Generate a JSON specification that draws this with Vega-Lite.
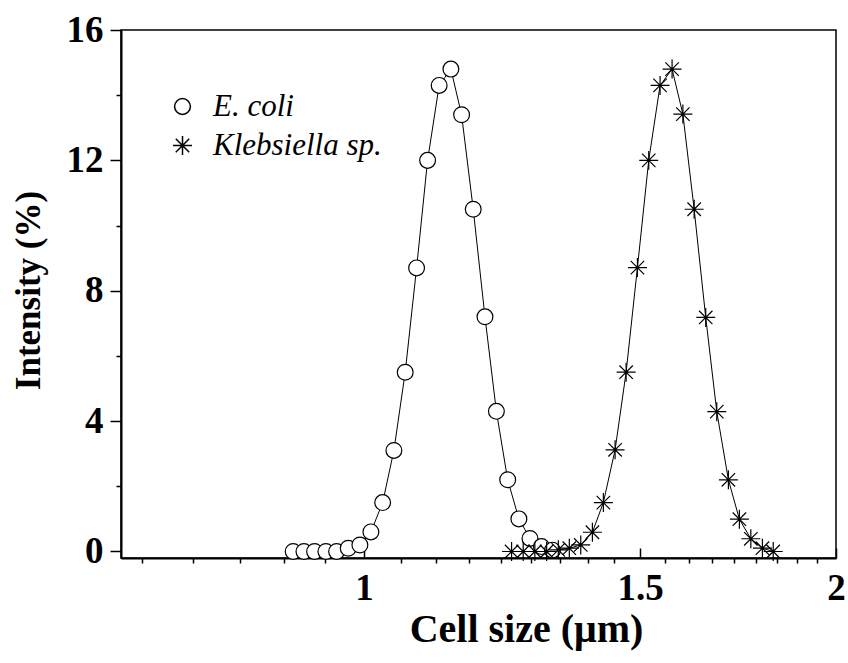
{
  "$schema": "https://vega.github.io/schema/vega-lite/v6.json",
  "width": 715,
  "height": 528,
  "autosize": "none",
  "padding": {"left": 121, "top": 30, "right": 12, "bottom": 105},
  "background": "white",
  "config": {
    "view": {"stroke": "black", "strokeWidth": 1.5},
    "font": "Liberation Serif",
    "axis": {"grid": false, "domainColor": "black", "tickColor": "black", "labelColor": "black", "titleColor": "black", "domainWidth": 2, "tickWidth": 1.5, "labelFlush": false, "labelOverlap": false}
  },
  "data": {"values": [
    {"series": "E. coli", "size": 0.9013, "intensity": 0},
    {"series": "E. coli", "size": 0.9157, "intensity": 0},
    {"series": "E. coli", "size": 0.9301, "intensity": 0},
    {"series": "E. coli", "size": 0.9457, "intensity": 0},
    {"series": "E. coli", "size": 0.9607, "intensity": 0},
    {"series": "E. coli", "size": 0.9772, "intensity": 0.1},
    {"series": "E. coli", "size": 0.9941, "intensity": 0.2},
    {"series": "E. coli", "size": 1.0103, "intensity": 0.6},
    {"series": "E. coli", "size": 1.0279, "intensity": 1.5},
    {"series": "E. coli", "size": 1.045, "intensity": 3.1},
    {"series": "E. coli", "size": 1.0625, "intensity": 5.5},
    {"series": "E. coli", "size": 1.0804, "intensity": 8.7},
    {"series": "E. coli", "size": 1.098, "intensity": 12.0},
    {"series": "E. coli", "size": 1.1168, "intensity": 14.3},
    {"series": "E. coli", "size": 1.1362, "intensity": 14.8},
    {"series": "E. coli", "size": 1.1542, "intensity": 13.4},
    {"series": "E. coli", "size": 1.1741, "intensity": 10.5},
    {"series": "E. coli", "size": 1.1945, "intensity": 7.2},
    {"series": "E. coli", "size": 1.2147, "intensity": 4.3},
    {"series": "E. coli", "size": 1.235, "intensity": 2.2},
    {"series": "E. coli", "size": 1.2555, "intensity": 1.0},
    {"series": "E. coli", "size": 1.2761, "intensity": 0.4},
    {"series": "E. coli", "size": 1.2978, "intensity": 0.15},
    {"series": "E. coli", "size": 1.3189, "intensity": 0.04},
    {"series": "Klebsiella sp.", "size": 1.2421, "intensity": 0},
    {"series": "Klebsiella sp.", "size": 1.2635, "intensity": 0},
    {"series": "Klebsiella sp.", "size": 1.2853, "intensity": 0},
    {"series": "Klebsiella sp.", "size": 1.3077, "intensity": 0},
    {"series": "Klebsiella sp.", "size": 1.3303, "intensity": 0.05},
    {"series": "Klebsiella sp.", "size": 1.352, "intensity": 0.1},
    {"series": "Klebsiella sp.", "size": 1.3749, "intensity": 0.2},
    {"series": "Klebsiella sp.", "size": 1.3986, "intensity": 0.59},
    {"series": "Klebsiella sp.", "size": 1.4213, "intensity": 1.5},
    {"series": "Klebsiella sp.", "size": 1.446, "intensity": 3.12},
    {"series": "Klebsiella sp.", "size": 1.4696, "intensity": 5.5},
    {"series": "Klebsiella sp.", "size": 1.4942, "intensity": 8.71},
    {"series": "Klebsiella sp.", "size": 1.5192, "intensity": 12.0},
    {"series": "Klebsiella sp.", "size": 1.5447, "intensity": 14.3},
    {"series": "Klebsiella sp.", "size": 1.5722, "intensity": 14.8},
    {"series": "Klebsiella sp.", "size": 1.5973, "intensity": 13.42},
    {"series": "Klebsiella sp.", "size": 1.624, "intensity": 10.5},
    {"series": "Klebsiella sp.", "size": 1.6518, "intensity": 7.18},
    {"series": "Klebsiella sp.", "size": 1.6788, "intensity": 4.29},
    {"series": "Klebsiella sp.", "size": 1.7077, "intensity": 2.2},
    {"series": "Klebsiella sp.", "size": 1.7355, "intensity": 0.99},
    {"series": "Klebsiella sp.", "size": 1.7649, "intensity": 0.39},
    {"series": "Klebsiella sp.", "size": 1.7952, "intensity": 0.1},
    {"series": "Klebsiella sp.", "size": 1.8239, "intensity": 0}
  ]},
  "layer": [
    {
      "mark": {"type": "line", "color": "black", "strokeWidth": 1},
      "encoding": {
        "x": {
          "field": "size", "type": "quantitative",
          "scale": {"type": "log", "domain": [0.7, 2], "nice": false},
          "axis": {
            "values": [1, 1.5, 2], "format": "~g", "tickSize": -10, "labelPadding": 22,
            "labelFont": "Liberation Serif", "labelFontSize": 37, "labelFontWeight": "bold",
            "title": "Cell size (μm)", "titleFont": "Liberation Serif", "titleFontSize": 40, "titleFontWeight": "bold",
            "titleX": 405, "titleY": 83, "titleAlign": "center", "titleBaseline": "alphabetic"
          }
        },
        "y": {
          "field": "intensity", "type": "quantitative",
          "scale": {"domain": [-0.2, 16], "nice": false, "zero": false},
          "axis": {
            "values": [0, 4, 8, 12, 16], "tickSize": 11, "labelPadding": 7,
            "labelFont": "Liberation Serif", "labelFontSize": 37, "labelFontWeight": "bold",
            "title": "Intensity (%)", "titleFont": "Liberation Serif", "titleFontSize": 35, "titleFontWeight": "bold",
            "titleX": -93, "titleY": 260, "titleAlign": "center", "titleBaseline": "middle", "titleAngle": -90
          }
        },
        "detail": {"field": "series"}
      }
    },
    {
      "mark": {"type": "point", "filled": false, "fill": "white", "fillOpacity": 1, "stroke": "black", "strokeWidth": 1.2, "size": 250},
      "encoding": {
        "x": {
          "field": "size", "type": "quantitative",
          "axis": {"orient": "bottom", "values": [0.7222, 0.7778, 0.8333, 0.8889, 0.9444, 1.0556, 1.1111, 1.1667, 1.2222, 1.2778, 1.3333, 1.3889, 1.4444, 1.5556, 1.6111, 1.6667, 1.7222, 1.7778, 1.8333, 1.8889, 1.9444], "tickSize": 5, "labels": false, "domain": false, "title": null}
        },
        "y": {
          "field": "intensity", "type": "quantitative",
          "axis": {"orient": "left", "values": [2, 6, 10, 14], "tickSize": 5, "labels": false, "domain": false, "title": null}
        },
        "shape": {
          "field": "series", "type": "nominal",
          "scale": {"domain": ["E. coli", "Klebsiella sp."], "range": ["circle", "M-1.2,0H1.2M0,-1.2V1.2M-0.85,-0.85L0.85,0.85M-0.85,0.85L0.85,-0.85"]},
          "legend": {
            "title": null, "orient": "none", "legendX": 46, "legendY": 61,
            "labelFont": "Liberation Serif", "labelFontSize": 31, "labelFontStyle": "italic", "labelColor": "black",
            "labelOffset": 15, "rowPadding": 7, "symbolSize": 250, "labelLimit": 400,
            "encode": {
              "symbols": {
                "shape": {"signal": "datum.value === 'E. coli' ? 'M-3.6,0H-1M1,0H3.6M-1,0A1,1 0 1,0 1,0A1,1 0 1,0 -1,0Z' : 'M-3.6,0H3.6M0,-1.2V1.2M-0.85,-0.85L0.85,0.85M-0.85,0.85L0.85,-0.85'"},
                "fill": {"value": "white"},
                "fillOpacity": {"value": 1},
                "stroke": {"value": "black"},
                "strokeOpacity": {"value": 1},
                "strokeWidth": {"value": 1.2},
                "size": {"value": 250},
                "opacity": {"value": 1}
              }
            }
          }
        }
      }
    }
  ],
  "resolve": {"axis": {"x": "independent", "y": "independent"}}
}
